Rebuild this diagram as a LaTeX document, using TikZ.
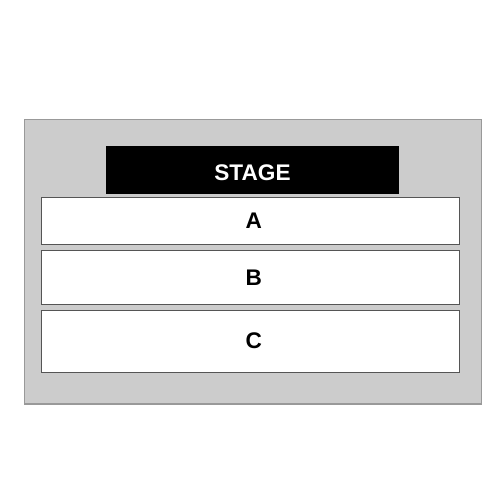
\documentclass[tikz,border=0pt]{standalone}
\usepackage{fontspec}
\setmainfont{Liberation Sans}
\usetikzlibrary{positioning}
\definecolor{hallgray}{HTML}{CCCCCC}
\definecolor{hallline}{HTML}{999999}
\definecolor{rowline}{HTML}{555555}

\begin{document}
\begin{tikzpicture}[
    x=0.5pt, y=-0.5pt,
    hall/.style={fill=hallgray, draw=hallline, line width=0.6pt},
    stagebox/.style={fill=black, text=white, minimum width=146.5pt, minimum height=24pt, inner sep=0pt, font=\bfseries\fontsize{11.3}{13}\selectfont},
    section/.style={fill=white, draw=rowline, line width=0.5pt, minimum width=208.75pt, inner sep=0pt, font=\bfseries\fontsize{11.3}{13}\selectfont}
]
\useasboundingbox (0,0) rectangle (500,500);
\draw[hall] (24.5,119.5) rectangle (481.5,404);
\node[stagebox] (stage) at (252.5,170) {};
\node at ([yshift=-1.5pt]stage.center) [text=white, font=\bfseries\fontsize{11.3}{13}\selectfont] (stagelabel) {STAGE};
\node[section, minimum height=23.25pt] (A) at (250.75,220.75) {\hspace*{3pt}A};
\node[section, minimum height=27.25pt] (B) at (250.75,277.25) {\hspace*{3pt}B};
\node[section, minimum height=31pt] (C) at (250.75,341) {\hspace*{3pt}C};
\end{tikzpicture}
\end{document}
